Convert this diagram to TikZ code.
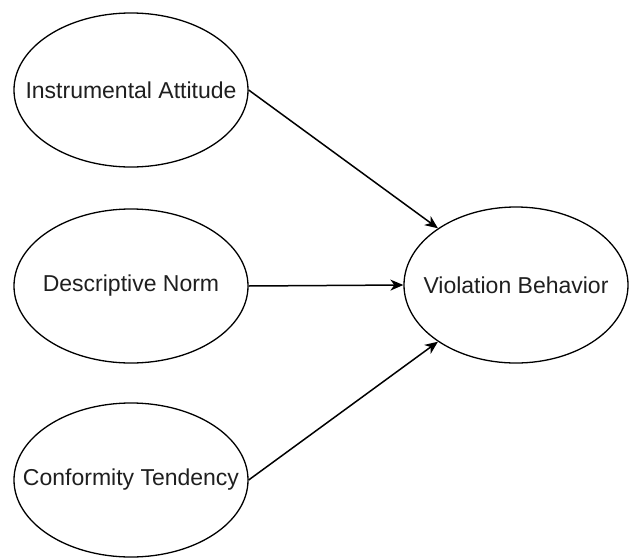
\documentclass[tikz,border=0pt]{standalone}
\usepackage{fontspec}
\setmainfont{Liberation Sans}
\usetikzlibrary{shapes.geometric,arrows.meta}
\begin{document}
\begin{tikzpicture}[x=1pt,y=-1pt,
  construct/.style={draw, ellipse, line width=1.3pt, fill=white,
    minimum width=234pt, minimum height=154pt, inner sep=0pt},
  caption/.style={font=\fontsize{23}{27}\selectfont, text=black!88},
  link/.style={-{Stealth[length=13pt,width=11pt,inset=4pt]}, line width=1.5pt}]
  \useasboundingbox (0,0) rectangle (629,557);

  % latent constructs
  \node[construct, label={[caption]center:Instrumental Attitude}] (ia) at (131,90) {};
  \node[construct, label={[caption]center:Descriptive Norm}] (dn) at (131,286) {};
  \node[construct, label={[caption]center:Conformity Tendency}] (ct) at (131,480) {};
  \node[construct, minimum width=224pt, minimum height=156pt,
        label={[caption]center:Violation Behavior}] (vb) at (516,285) {};

  % hypothesised paths
  \draw[link] (ia.east) -- (vb.144);
  \draw[link] (dn.east) -- (vb.west);
  \draw[link] (ct.east) -- (vb.216);
\end{tikzpicture}
\end{document}
